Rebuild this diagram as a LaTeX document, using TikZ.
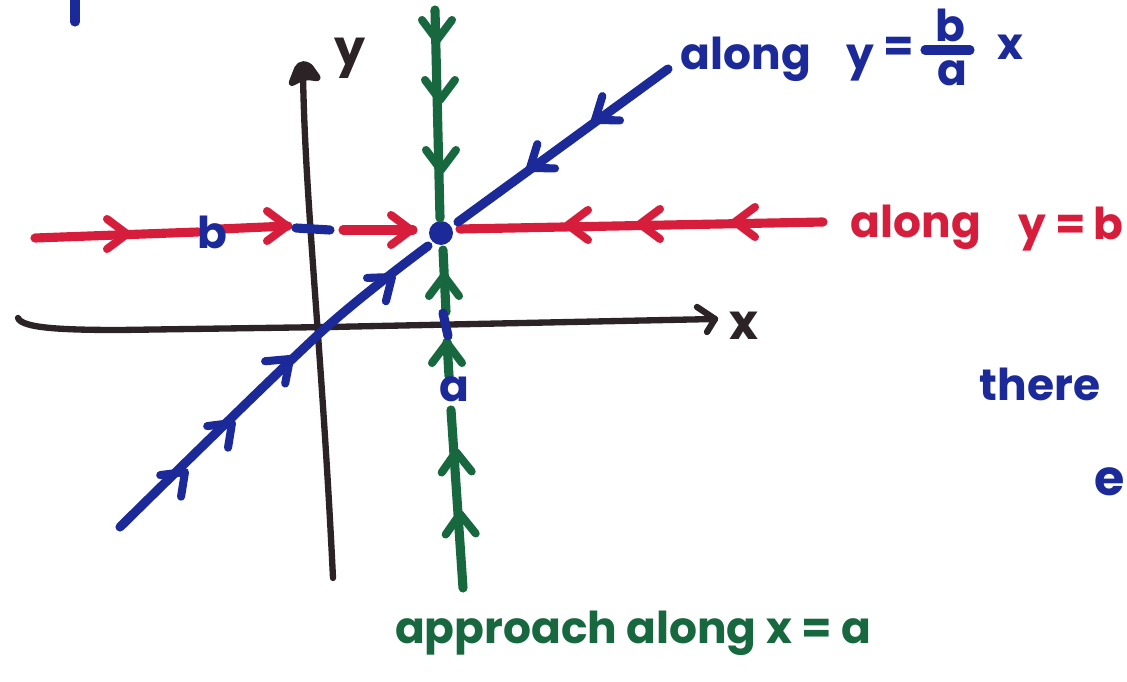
\documentclass[tikz,border=0pt]{standalone}
\usepackage{fontspec}
\setmainfont{Poppins}
\definecolor{mblue}{HTML}{1B2A98}
\definecolor{mred}{HTML}{D61E3C}
\definecolor{mgreen}{HTML}{17683E}
\definecolor{mblack}{HTML}{2B2326}
\begin{document}
\begin{tikzpicture}[x=0.02cm,y=-0.02cm,line cap=round,line join=round,
  marker/.style={line width=5.2pt},
  axisline/.style={line width=3.6pt,mblack},
  chev/.pic={\draw[line width=4.6pt] (-20,-15) -- (0,0) -- (-20,15);},
  lbl/.style={font=\bfseries\fontsize{25}{25}\selectfont,inner sep=0pt,anchor=base},
  biglbl/.style={font=\bfseries\fontsize{28}{28}\selectfont,inner sep=0pt,anchor=base}]
\useasboundingbox (0,0) rectangle (1127,682);

% stray stroke at top left
\draw[marker,mblue] (75,0) -- (75,22);

% axes
\coordinate (ybot) at (333,578);
\coordinate (ytop) at (303,74);
\draw[axisline] (ybot) .. controls (322,350) and (305,200) .. (ytop);
\filldraw[mblack,line width=2pt,rounded corners=3pt] (289,86) -- (298,63) -- (309,63) -- (321,80) -- (305,78) -- cycle;
\node[biglbl,mblack] (ylab) at (350,66) {y};

\coordinate (xleft) at (18,318);
\coordinate (xright) at (715,319);
\draw[axisline] (xleft) .. controls (22,328) and (60,330) .. (120,330) -- (330,327) -- (xright);
\draw[axisline] (697,307) -- (xright) -- (707,332);
\node[biglbl,mblack] (xlab) at (744,340) {x};

% equilibrium point
\fill[mblue] (441,233) circle (12);
\coordinate (eq) at (441,233);

% red line y = b
\draw[marker,mred] (35,238) -- (198,232);
\draw[marker,mred] (220,229) -- (288,226);
\draw[marker,mred] (343,230) -- (413,230);
\draw[marker,mred] (460,229) -- (823,222);
\pic[mred] at (127,234) {chev};
\pic[mred] at (287,226) {chev};
\pic[mred] at (411,230) {chev};
\pic[mred,rotate=180] at (568,225) {chev};
\pic[mred,rotate=180] at (640,224) {chev};
\pic[mred,rotate=180] at (735,222) {chev};

% blue line y = (b/a) x
\draw[marker,mblue] plot[smooth] coordinates {(120,527) (320,333) (428,246)};
\draw[marker,mblue] (458,222) -- (668,69);
\pic[mblue,rotate=44] at (185,472) {chev};
\pic[mblue,rotate=44] at (232,423) {chev};
\pic[mblue,rotate=42] at (290,359) {chev};
\pic[mblue,rotate=39] at (392,277) {chev};
\pic[mblue,rotate=216] at (595,120) {chev};
\pic[mblue,rotate=216] at (530,168) {chev};

% green line x = a
\draw[marker,mgreen] (435,10) -- (440,218);
\draw[marker,mgreen] (443,250) -- (446,312);
\draw[marker,mgreen] (447,342) -- (449,376);
\draw[marker,mgreen] (451,410) -- (463,588);
\pic[mgreen,rotate=-90] at (437,40) {chev};
\pic[mgreen,rotate=-90] at (440,100) {chev};
\pic[mgreen,rotate=-90] at (441,170) {chev};
\pic[mgreen,rotate=90] at (444,276) {chev};
\pic[mgreen,rotate=90] at (447,343) {chev};
\pic[mgreen,rotate=92] at (456,452) {chev};
\pic[mgreen,rotate=92] at (460,514) {chev};

% tick marks
\draw[marker,mblue] (296,228) -- (330,230);
\draw[marker,mblue] (443,313) -- (448,336);
\node[lbl,mblue] (blab) at (212,249) {b};
\node[lbl,mblue] (alab) at (454,402) {a};

% labels
\node[lbl,mblue] (alongb) at (746,70) {along};
\node[lbl,mblue] (ylb) at (860,70) {y};
\node[lbl,mblue] (eqb) at (899,62) {=};
\draw[marker,mblue] (925,50) -- (970,50);
\node[lbl,mblue] (fb) at (950,42) {b};
\node[lbl,mblue] (fa) at (952,86) {a};
\node[lbl,mblue] (xb) at (1010,60) {x};

\node[lbl,mred] (alongr) at (916,238) {along};
\node[lbl,mred] (yr) at (1032,240) {y};
\node[lbl,mred] (eqr) at (1071,240) {=};
\node[lbl,mred] (br) at (1108,240) {b};

\node[lbl,mgreen] (appr) at (633,643) {approach along x = a};

\node[lbl,mblue] (there) at (1040,401) {there};
\node[biglbl,mblue,anchor=base east] (elab) at (1125,496) {e};
\end{tikzpicture}
\end{document}
